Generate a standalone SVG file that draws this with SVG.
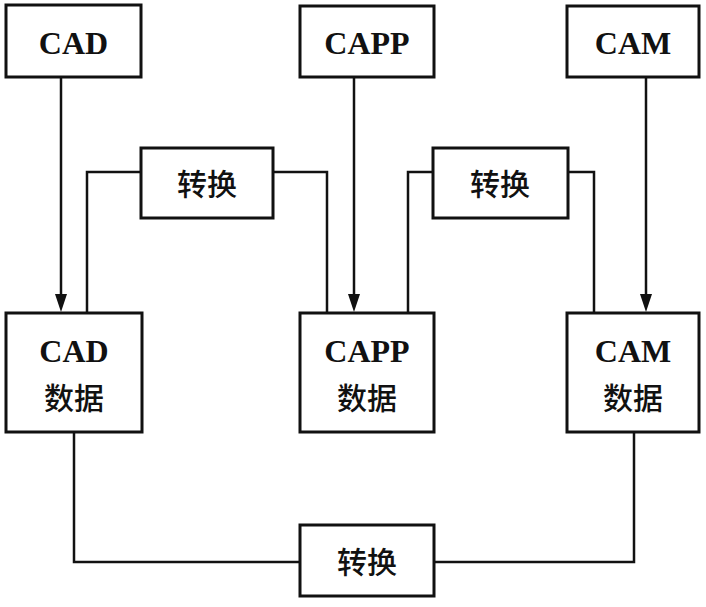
<svg xmlns="http://www.w3.org/2000/svg" width="706" height="607" viewBox="0 0 706 607">
<defs>
<style>
.box{fill:#fff;stroke:#111;stroke-width:3}
.ln{fill:none;stroke:#111;stroke-width:2.5}
.t{font-family:"Liberation Serif","Noto Sans CJK SC",serif;font-weight:bold;font-size:32px;fill:#111;text-anchor:middle}
.c{font-family:"Noto Sans CJK SC",sans-serif;font-weight:500;font-size:30px;fill:#111;text-anchor:middle}
</style>
</defs>
<rect width="706" height="607" fill="#fff"/>
<g id="connectors">
<line class="ln" x1="61" y1="77" x2="61" y2="296"/>
<path d="M55,294 L67,294 L61,312 Z" fill="#111"/>
<line class="ln" x1="354" y1="77" x2="354" y2="296"/>
<path d="M348,294 L360,294 L354,312 Z" fill="#111"/>
<line class="ln" x1="646" y1="77" x2="646" y2="296"/>
<path d="M640,294 L652,294 L646,312 Z" fill="#111"/>
<polyline class="ln" points="141,172 87,172 87,312"/>
<polyline class="ln" points="273,172 327,172 327,312"/>
<polyline class="ln" points="433,172 408,172 408,312"/>
<polyline class="ln" points="568,172 594,172 594,312"/>
<polyline class="ln" points="74,432 74,562 300,562"/>
<polyline class="ln" points="434,562 634,562 634,432"/>
</g>
<g id="cad"><rect class="box" x="6" y="5" width="135" height="72"/><text class="t" x="73.5" y="54">CAD</text></g>
<g id="capp"><rect class="box" x="300" y="6" width="134" height="71"/><text class="t" x="367" y="54">CAPP</text></g>
<g id="cam"><rect class="box" x="567" y="6" width="132" height="71"/><text class="t" x="633" y="54">CAM</text></g>
<g id="conv1"><rect class="box" x="141" y="148" width="132" height="70"/><text class="c" x="207" y="195">转换</text></g>
<g id="conv2"><rect class="box" x="433" y="148" width="135" height="70"/><text class="c" x="500" y="195">转换</text></g>
<g id="cad-data"><rect class="box" x="6" y="313" width="136" height="119"/><text class="t" x="74" y="362">CAD</text><text class="c" x="74" y="409">数据</text></g>
<g id="capp-data"><rect class="box" x="300" y="313" width="134" height="119"/><text class="t" x="367" y="362">CAPP</text><text class="c" x="367" y="409">数据</text></g>
<g id="cam-data"><rect class="box" x="567" y="313" width="132" height="119"/><text class="t" x="633" y="362">CAM</text><text class="c" x="633" y="409">数据</text></g>
<g id="conv3"><rect class="box" x="300" y="525" width="134" height="71"/><text class="c" x="367" y="573">转换</text></g>
</svg>
